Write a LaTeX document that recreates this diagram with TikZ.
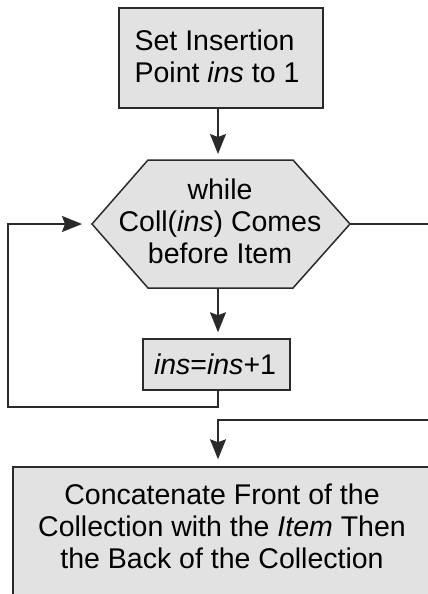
\documentclass[tikz,border=0pt]{standalone}
\usepackage{fontspec}
\setmainfont{Liberation Sans}
\usetikzlibrary{arrows.meta,fit}
\definecolor{boxfill}{HTML}{E2E2E2}
\definecolor{ink}{HTML}{2A2A2A}
\begin{document}
\begin{tikzpicture}[x=1pt,y=-1pt,
  every node/.style={font=\fontsize{28.5}{32}\selectfont, text=black},
  procbox/.style={draw=ink, fill=boxfill, line width=1.5pt, inner sep=0pt},
  conn/.style={draw=ink, line width=1.3pt},
  arr/.style={conn, -{Stealth[length=20pt,width=16pt,inset=3pt]}, shorten >=6pt}]
\useasboundingbox (0,0) rectangle (428,594);
\clip (0,0) rectangle (428,594);
% axis coordinates
\coordinate (axis) at (218,0);
% top box
\node[procbox, minimum width=204pt, minimum height=100pt] (set) at (221,58) {};
\node[align=left, inner sep=0pt] (settext) at (217,56) {Set Insertion\\Point \textit{ins} to 1};
% hexagon
\coordinate (hexL) at (92,224);
\coordinate (hexTL) at (148,160);
\coordinate (hexTR) at (293,160);
\coordinate (hexR) at (350,224);
\coordinate (hexBR) at (293,288);
\coordinate (hexBL) at (148,288);
\coordinate (hexT) at (218,160);
\coordinate (hexB) at (218,288);
\draw[draw=ink, fill=boxfill, line width=1.5pt, line join=miter]
  (hexL) -- (hexTL) -- (hexTR) -- (hexR) -- (hexBR) -- (hexBL) -- cycle;
\node[align=center, inner sep=0pt] (cond) at (220,221) {while\\Coll(\textit{ins}) Comes\\before Item};
% increment box
\node[procbox, minimum width=147pt, minimum height=51pt] (inc) at (216.5,364.5) {};
\node[inner sep=0pt] (inctext) at (215,364) {\textit{ins}=\textit{ins}+1};
% bottom box
\coordinate (botTL) at (13,467);
\coordinate (botBR) at (431,640);
\node[procbox, fit=(botTL)(botBR)] (concat) {};
\node[align=center, inner sep=0pt] (concattext) at (222,526)
  {Concatenate Front of the\\Collection with the \textit{Item} Then\\the Back of the Collection};
% connectors
\draw[arr] (set.south -| axis) -- (hexT);
\draw[arr] (hexB) -- (inc.north -| axis);
\coordinate (loopR) at (218,407);
\coordinate (loopL) at (8,407);
\draw[arr, shorten >=10pt] (inc.south -| axis) -- (loopR) -- (loopL) |- (hexL);
\coordinate (exitR) at (440,224);
\coordinate (exitR2) at (440,420);
\draw[conn] (hexR) -- (exitR);
\draw[arr, shorten >=7pt] (exitR2) -| (concat.north -| axis);
\end{tikzpicture}
\end{document}
